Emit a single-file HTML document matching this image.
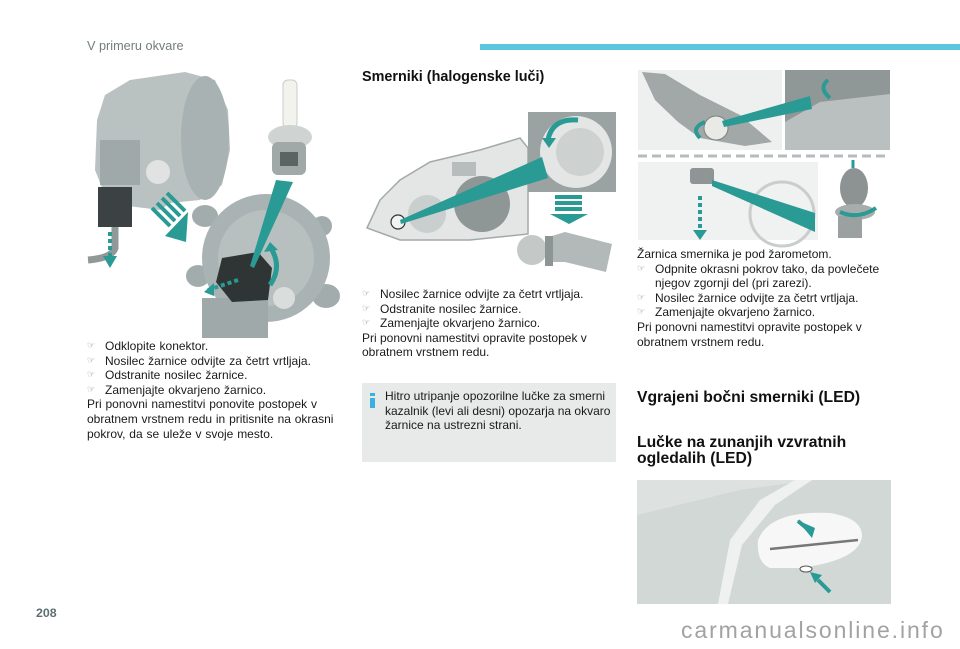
<!DOCTYPE html>
<html><head><meta charset="utf-8">
<style>
html,body{margin:0;padding:0;background:#fff;}
body{width:960px;height:649px;position:relative;overflow:hidden;font-family:"Liberation Sans",Arial,sans-serif;color:#1a1a1a;}
.t{position:absolute;white-space:nowrap;font-size:12px;line-height:14.6px;}
.b{position:relative;padding-left:18px;}
.b:before{content:"\261E";position:absolute;left:0;top:0;font-family:"DejaVu Sans",sans-serif;font-size:9px;color:#8a8a8a;}
.h{position:absolute;white-space:nowrap;font-weight:bold;color:#111;}
svg{position:absolute;left:0;top:0;}
</style></head><body>
<svg width="960" height="649" viewBox="0 0 960 649">
  <!-- header bar -->
  <rect x="480" y="44" width="480" height="6" fill="#5cc6de"/>

  <!-- LEFT IMAGE: fog lamp -->
  <g>
    <polygon points="105,95 130,80 185,72 215,80 228,110 230,150 222,185 200,200 170,203 160,210 120,205 105,195 95,170 97,120" fill="#bac2c1"/>
    <ellipse cx="205" cy="138" rx="24" ry="62" fill="#a9b2b2"/>
    <rect x="100" y="140" width="40" height="45" fill="#a0a9a9"/>
    <circle cx="158" cy="172" r="12" fill="#e0e3e2"/>
    <rect x="98" y="187" width="34" height="40" fill="#3c4243"/>
    <path d="M115 227 L115 248 Q112 258 88 260" stroke="#909898" stroke-width="7" fill="none"/>
    <path d="M110 232 L110 258" stroke="#2a9a94" stroke-width="4" stroke-dasharray="4,3"/>
    <polygon points="103,256 117,256 110,268" fill="#2a9a94"/>
    <!-- striped arrow -->
    <g stroke="#2a9a94" stroke-width="4">
      <line x1="152" y1="208" x2="170" y2="226"/>
      <line x1="157" y1="203" x2="175" y2="221"/>
      <line x1="162" y1="198" x2="180" y2="216"/>
      <line x1="167" y1="193" x2="185" y2="211"/>
    </g>
    <polygon points="165,236 188,212 186,242" fill="#2a9a94"/>
    <!-- lower lamp -->
    <ellipse cx="205" cy="216" rx="13" ry="11" fill="#a3acac"/>
    <ellipse cx="198" cy="276" rx="12" ry="11" fill="#a3acac"/>
    <ellipse cx="326" cy="296" rx="14" ry="12" fill="#a3acac"/>
    <ellipse cx="322" cy="226" rx="10" ry="10" fill="#a3acac"/>
    <circle cx="266" cy="258" r="64" fill="#aab3b3"/>
    <circle cx="266" cy="258" r="48" fill="#b8c0bf"/>
    <rect x="202" y="298" width="66" height="40" fill="#9fa9a9"/>
    <polygon points="222,258 258,252 272,268 268,300 232,302 216,282" fill="#2f3535"/>
    <circle cx="284" cy="298" r="11" fill="#d9dddc"/>
    <path d="M270 285 Q282 268 272 250" stroke="#2a9a94" stroke-width="5" fill="none"/>
    <polygon points="264,252 278,250 270,242" fill="#2a9a94"/>
    <path d="M238 280 L208 290" stroke="#2a9a94" stroke-width="4" stroke-dasharray="4,3"/>
    <polygon points="204,292 214,283 214,296" fill="#2a9a94"/>
    <polygon points="276,180 293,182 254,268 250,266" fill="#2a9a94"/>
    <!-- bulb -->
    <rect x="283" y="80" width="14" height="48" rx="5" fill="#f3f3ee" stroke="#c8cccb"/>
    <ellipse cx="290" cy="137" rx="22" ry="12" fill="#cfd4d3"/>
    <rect x="272" y="142" width="34" height="33" rx="6" fill="#a0a8a8"/>
    <rect x="280" y="152" width="18" height="14" fill="#5b6363"/>
  </g>

  <!-- MIDDLE IMAGE: headlight -->
  <g>
    <polygon points="367,228 380,200 400,180 430,162 480,150 520,138 528,148 528,234 470,240 400,240" fill="#e4e6e6" stroke="#a3a9a9" stroke-width="1.5"/>
    <circle cx="427" cy="214" r="19" fill="#c9cece"/>
    <circle cx="482" cy="204" r="28" fill="#8f9696"/>
    <rect x="452" y="162" width="24" height="14" fill="#b7bdbd"/>
    <circle cx="398" cy="222" r="7" fill="#f2f2f2" stroke="#333" stroke-width="1.2"/>
    <rect x="528" y="112" width="88" height="80" fill="#9aa2a2"/>
    <circle cx="576" cy="152" r="36" fill="#e3e6e5"/>
    <circle cx="580" cy="152" r="24" fill="#cdd2d1"/>
    <path d="M548 140 Q552 118 578 120" stroke="#2a9a94" stroke-width="5" fill="none"/>
    <polygon points="542,138 556,138 549,148" fill="#2a9a94"/>
    <polygon points="400,220 542,157 548,178 401,224" fill="#2a9a94"/>
    <rect x="555" y="195" width="27" height="4" fill="#2a9a94"/>
    <rect x="555" y="201" width="27" height="4" fill="#2a9a94"/>
    <rect x="555" y="207" width="27" height="4" fill="#2a9a94"/>
    <polygon points="550,214 588,214 569,224" fill="#2a9a94"/>
    <circle cx="532" cy="250" r="15" fill="#c4c9c8"/>
    <polygon points="545,238 565,232 612,244 606,272 565,262 548,262" fill="#b3b9b9"/>
    <rect x="545" y="236" width="8" height="30" fill="#8d9494"/>
  </g>

  <!-- RIGHT TOP IMAGE -->
  <g>
    <rect x="638" y="70" width="144" height="80" fill="#eef0ef"/>
    <polygon points="642,72 665,74 700,95 740,115 772,142 745,146 700,138 678,122 655,100" fill="#a1a8a7"/>
    <circle cx="716" cy="128" r="12" fill="#e9e9e6" stroke="#7a8080"/>
    <rect x="785" y="70" width="105" height="80" fill="#8f9897"/>
    <polygon points="785,150 785,122 820,102 890,94 890,150" fill="#b9c0bf"/>
    <polygon points="722,121 810,96 812,109 724,127" fill="#2a9a94"/>
    <path d="M700 138 Q690 128 705 122" stroke="#2a9a94" stroke-width="4" fill="none"/>
    <path d="M830 98 Q818 88 828 80" stroke="#2a9a94" stroke-width="4" fill="none"/>
    <line x1="638" y1="156" x2="890" y2="156" stroke="#b4bcbc" stroke-width="3" stroke-dasharray="9,5"/>
    <rect x="638" y="162" width="180" height="78" fill="#f0f1f1"/>
    <circle cx="782" cy="214" r="32" fill="none" stroke="#c9cdcd" stroke-width="3"/>
    <rect x="690" y="168" width="24" height="16" rx="3" fill="#8f9595"/>
    <polygon points="712,180 815,213 815,232 712,186" fill="#2a9a94"/>
    <path d="M700 196 L700 232" stroke="#2a9a94" stroke-width="4" stroke-dasharray="4,3"/>
    <polygon points="693,230 707,230 700,240" fill="#2a9a94"/>
    <ellipse cx="854" cy="188" rx="14" ry="20" fill="#8c9392"/>
    <ellipse cx="855" cy="212" rx="20" ry="8" fill="#a6adac"/>
    <rect x="838" y="216" width="24" height="22" fill="#9ba1a1"/>
    <path d="M840 212 Q858 220 876 208" stroke="#2a9a94" stroke-width="4" fill="none"/>
    <line x1="853" y1="168" x2="853" y2="160" stroke="#2a9a94" stroke-width="3"/>
  </g>

  <!-- MIRROR IMAGE -->
  <g>
    <rect x="637" y="480" width="254" height="124" fill="#d2d8d6"/>
    <polygon points="637,515 740,490 813,480 637,480" fill="#dde2e0"/>
    <polygon points="718,604 730,540 760,500 795,480 812,480 775,505 742,545 728,604" fill="#eef1ef"/>
    <path d="M758 540 Q770 510 830 513 Q862 518 862 536 Q860 560 800 568 L770 568 Q756 562 758 540 Z" fill="#f6f7f6"/>
    <path d="M770 549 L858 540" stroke="#777" stroke-width="2.5"/>
    <ellipse cx="806" cy="569" rx="6" ry="3" fill="#fff" stroke="#555"/>
    <polygon points="797,520 815,528 812,538" fill="#2a9a94"/>
    <line x1="798" y1="521" x2="810" y2="531" stroke="#2a9a94" stroke-width="4"/>
    <polygon points="810,572 822,575 815,583" fill="#2a9a94"/>
    <line x1="818" y1="580" x2="830" y2="592" stroke="#2a9a94" stroke-width="4"/>
  </g>

  <!-- info box -->
  <rect x="362" y="383" width="254" height="79" fill="#e7eae9"/>
  <rect x="370" y="393" width="5" height="3" fill="#3ab2df"/>
  <rect x="370" y="398" width="5" height="10" fill="#3ab2df"/>
</svg>

<div class="t" style="left:87px;top:38px;font-size:12.7px;line-height:16px;color:#737d7d;">V primeru okvare</div>

<div class="t" style="left:87px;top:339px;word-spacing:0.5px;">
<div class="b">Odklopite konektor.</div>
<div class="b">Nosilec žarnice odvijte za četrt vrtljaja.</div>
<div class="b">Odstranite nosilec žarnice.</div>
<div class="b">Zamenjajte okvarjeno žarnico.</div>
<div>Pri ponovni namestitvi ponovite postopek v</div>
<div>obratnem vrstnem redu in pritisnite na okrasni</div>
<div>pokrov, da se uleže v svoje mesto.</div>
</div>

<div class="h" style="left:362px;top:69px;font-size:14.4px;line-height:17px;">Smerniki (halogenske luči)</div>

<div class="t" style="left:362px;top:287px;">
<div class="b">Nosilec žarnice odvijte za četrt vrtljaja.</div>
<div class="b">Odstranite nosilec žarnice.</div>
<div class="b">Zamenjajte okvarjeno žarnico.</div>
<div>Pri ponovni namestitvi opravite postopek v</div>
<div>obratnem vrstnem redu.</div>
</div>

<div class="t" style="left:385px;top:389px;">
<div>Hitro utripanje opozorilne lučke za smerni</div>
<div>kazalnik (levi ali desni) opozarja na okvaro</div>
<div>žarnice na ustrezni strani.</div>
</div>

<div class="t" style="left:637px;top:247px;">
<div>Žarnica smernika je pod žarometom.</div>
<div class="b">Odpnite okrasni pokrov tako, da povlečete<br>njegov zgornji del (pri zarezi).</div>
<div class="b">Nosilec žarnice odvijte za četrt vrtljaja.</div>
<div class="b">Zamenjajte okvarjeno žarnico.</div>
<div>Pri ponovni namestitvi opravite postopek v</div>
<div>obratnem vrstnem redu.</div>
</div>

<div class="h" style="left:637px;top:389px;font-size:15.7px;line-height:18px;">Vgrajeni bočni smerniki (LED)</div>
<div class="h" style="left:637px;top:435px;font-size:15.7px;line-height:16px;">Lučke na zunanjih vzvratnih<br>ogledalih (LED)</div>

<div class="t" style="left:36px;top:605px;font-size:12.4px;line-height:16px;font-weight:bold;color:#5f7070;">208</div>

<div class="t" style="left:681px;top:617px;font-size:23px;line-height:26px;letter-spacing:1.9px;color:#a2a2a2;">carmanualsonline.info</div>
</body></html>
